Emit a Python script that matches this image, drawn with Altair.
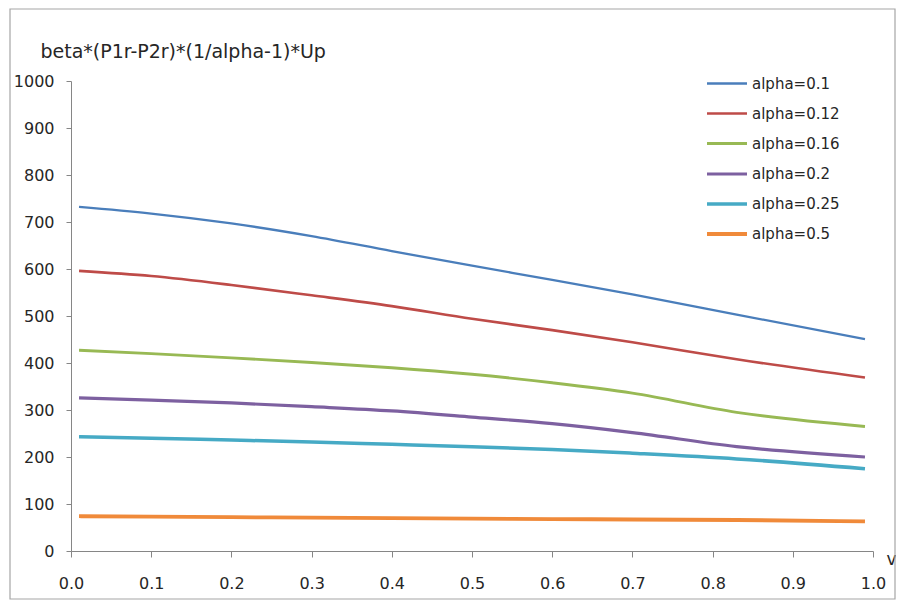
import altair as alt
import pandas as pd

v = [0.01, 0.1, 0.2, 0.3, 0.4, 0.5, 0.6, 0.7, 0.83, 0.99]
series_names = ["alpha=0.1", "alpha=0.12", "alpha=0.16", "alpha=0.2", "alpha=0.25", "alpha=0.5"]
a010 = [732, 718, 697, 670, 638, 607, 577, 546, 503, 451]
a012 = [596, 585, 566, 544, 521, 494, 470, 444, 408, 369]
a016 = [427, 420, 411, 401, 390, 376, 358, 336, 295, 265]
a020 = [326, 321, 315, 307, 298, 285, 271, 252, 222, 200]
a025 = [243, 240, 236, 232, 227, 222, 216, 208, 196, 175]
a050 = [74, 73, 72, 71, 70, 69, 68, 67, 66, 63]
colors = ["#4A7EBB", "#BE4B48", "#98B954", "#7D60A0", "#46AAC5", "#F08A3A"]
widths = [2.3, 3.8, 3.8, 3.8, 3.8, 3.8]

rows = []
for name, vals in zip(series_names, [a010, a012, a016, a020, a025, a050]):
    for x, y in zip(v, vals):
        rows.append({"v": x, "val": y, "series": name})
df = pd.DataFrame(rows)

FONT = "DejaVu Sans"
TXT = "#262626"

legend_kw = dict(title=None, orient="none", legendX=634, legendY=-19,
                 symbolType="stroke", symbolSize=1600,
                 labelFontSize=15, labelFont=FONT, labelColor=TXT,
                 labelOffset=3, rowPadding=-10, padding=0)

lines = alt.Chart(df).mark_line(interpolate="monotone").encode(
    x=alt.X("v:Q",
            scale=alt.Scale(domain=[0, 1], nice=False),
            axis=alt.Axis(values=[i / 10 for i in range(11)], format=".1f",
                          grid=False, domainColor="#868686", tickColor="#868686",
                          labelFont=FONT, labelFontSize=16, labelColor=TXT,
                          labelFlush=False,
                          title="v", titleAngle=0, titleX=820, titleY=8,
                          titleAlign="center", titleBaseline="middle",
                          titleFont=FONT, titleColor=TXT,
                          titleFontSize=17, titleFontWeight="normal",
                          labelPadding=18, tickSize=6)),
    y=alt.Y("val:Q",
            scale=alt.Scale(domain=[0, 1000], nice=False),
            axis=alt.Axis(values=list(range(0, 1001, 100)), format="d",
                          grid=False, domainColor="#868686", tickColor="#868686",
                          labelFont=FONT, labelFontSize=16, labelColor=TXT,
                          title="beta*(P1r-P2r)*(1/alpha-1)*Up",
                          titleAngle=0, titleX=-31, titleY=-24,
                          titleAlign="left", titleBaseline="alphabetic",
                          titleFont=FONT, titleColor=TXT,
                          titleFontSize=19, titleFontWeight="normal",
                          labelPadding=12, tickSize=5)),
    color=alt.Color("series:N", sort=series_names,
                    scale=alt.Scale(domain=series_names, range=colors),
                    legend=alt.Legend(**legend_kw)),
    strokeWidth=alt.StrokeWidth("series:N", sort=series_names,
                                scale=alt.Scale(domain=series_names, range=widths),
                                legend=alt.Legend(**legend_kw)),
)

frame = alt.Chart(pd.DataFrame({"k": [0]})).mark_rect(
    fill=None, stroke="#A6A6A6", strokeWidth=1.2, clip=False
).encode(x=alt.value(-61), x2=alt.value(824), y=alt.value(-72), y2=alt.value(518))

chart = alt.layer(frame, lines).properties(
    width=802, height=470,
    background="white",
    autosize=alt.AutoSizeParams(type="none"),
    padding={"left": 63, "top": 73, "right": 23, "bottom": 49},
).configure_view(stroke=None)

chart.save("out.html", embed_options={"renderer": "svg", "actions": False})
